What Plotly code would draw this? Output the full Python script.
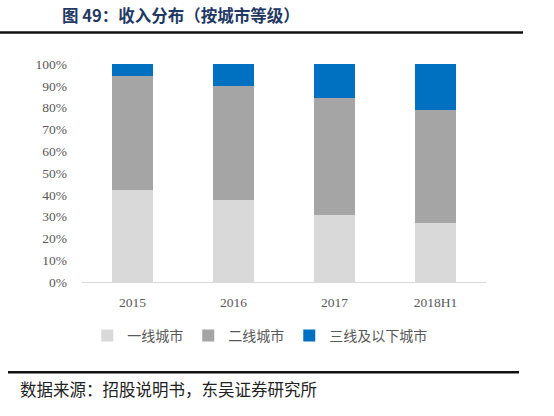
import plotly.graph_objects as go

categories = ["2015", "2016", "2017", "2018H1"]
tier1 = [0.420, 0.376, 0.306, 0.271]
tier2 = [0.523, 0.523, 0.536, 0.518]
tier3 = [0.057, 0.101, 0.158, 0.211]
series_names = ["一线城市", "二线城市", "三线及以下城市"]
colors = ["#D9D9D9", "#A5A5A5", "#0070C0"]
y_ticks = [i / 10 for i in range(11)]

W, H = 554, 416
L, R, T, B = 82, 486, 64, 282  # plot area in pixels

def px(x):
    return (x - L) / (R - L)

def py(y):
    return (B - y) / (B - T)

fig = go.Figure()
for name, vals, c in zip(series_names, [tier1, tier2, tier3], colors):
    fig.add_trace(go.Bar(x=categories, y=vals, name=name, marker=dict(color=c, line=dict(width=0))))

cjk = "Noto Sans CJK SC"
serif = "Liberation Serif"

fig.update_layout(
    width=W, height=H,
    margin=dict(l=L, r=W - R, t=T, b=H - B, pad=0),
    barmode="stack", bargap=0.6,
    plot_bgcolor="white", paper_bgcolor="white",
    showlegend=True,
    legend=dict(orientation="h", x=0.44, xanchor="center", y=py(336), yanchor="middle",
                font=dict(family=cjk, size=14, color="#595959"), itemwidth=30,
                traceorder="normal", itemclick=False),
    xaxis=dict(showgrid=False, showline=True, linecolor="#D9D9D9", linewidth=1,
               ticks="", ticklabelstandoff=8,
               tickfont=dict(family=serif, size=13.5, color="#595959")),
    yaxis=dict(range=[0, 1], tickvals=y_ticks, tickformat=".0%", showgrid=False,
               showline=False, zeroline=False, ticks="", ticklabelstandoff=14,
               tickfont=dict(family=serif, size=13.5, color="#595959")),
    shapes=[
        dict(type="line", xref="paper", yref="paper", x0=px(0), x1=px(523), y0=py(32.5), y1=py(32.5),
             line=dict(color="#111111", width=2.5)),
        dict(type="line", xref="paper", yref="paper", x0=px(8), x1=px(519), y0=py(372.3), y1=py(372.3),
             line=dict(color="#111111", width=2.5)),
    ],
    annotations=[
        dict(text="<b>图 49：收入分布（按城市等级）</b>", xref="paper", yref="paper",
             x=px(60), y=py(15), xanchor="left", yanchor="middle", showarrow=False,
             font=dict(family=cjk, size=16.5, color="#1F3864")),
        dict(text="数据来源：招股说明书，东吴证券研究所", xref="paper", yref="paper",
             x=px(18), y=py(389), xanchor="left", yanchor="middle", showarrow=False,
             font=dict(family=cjk, size=16.5, color="#222222")),
    ],
)

fig.write_html("out.html")
